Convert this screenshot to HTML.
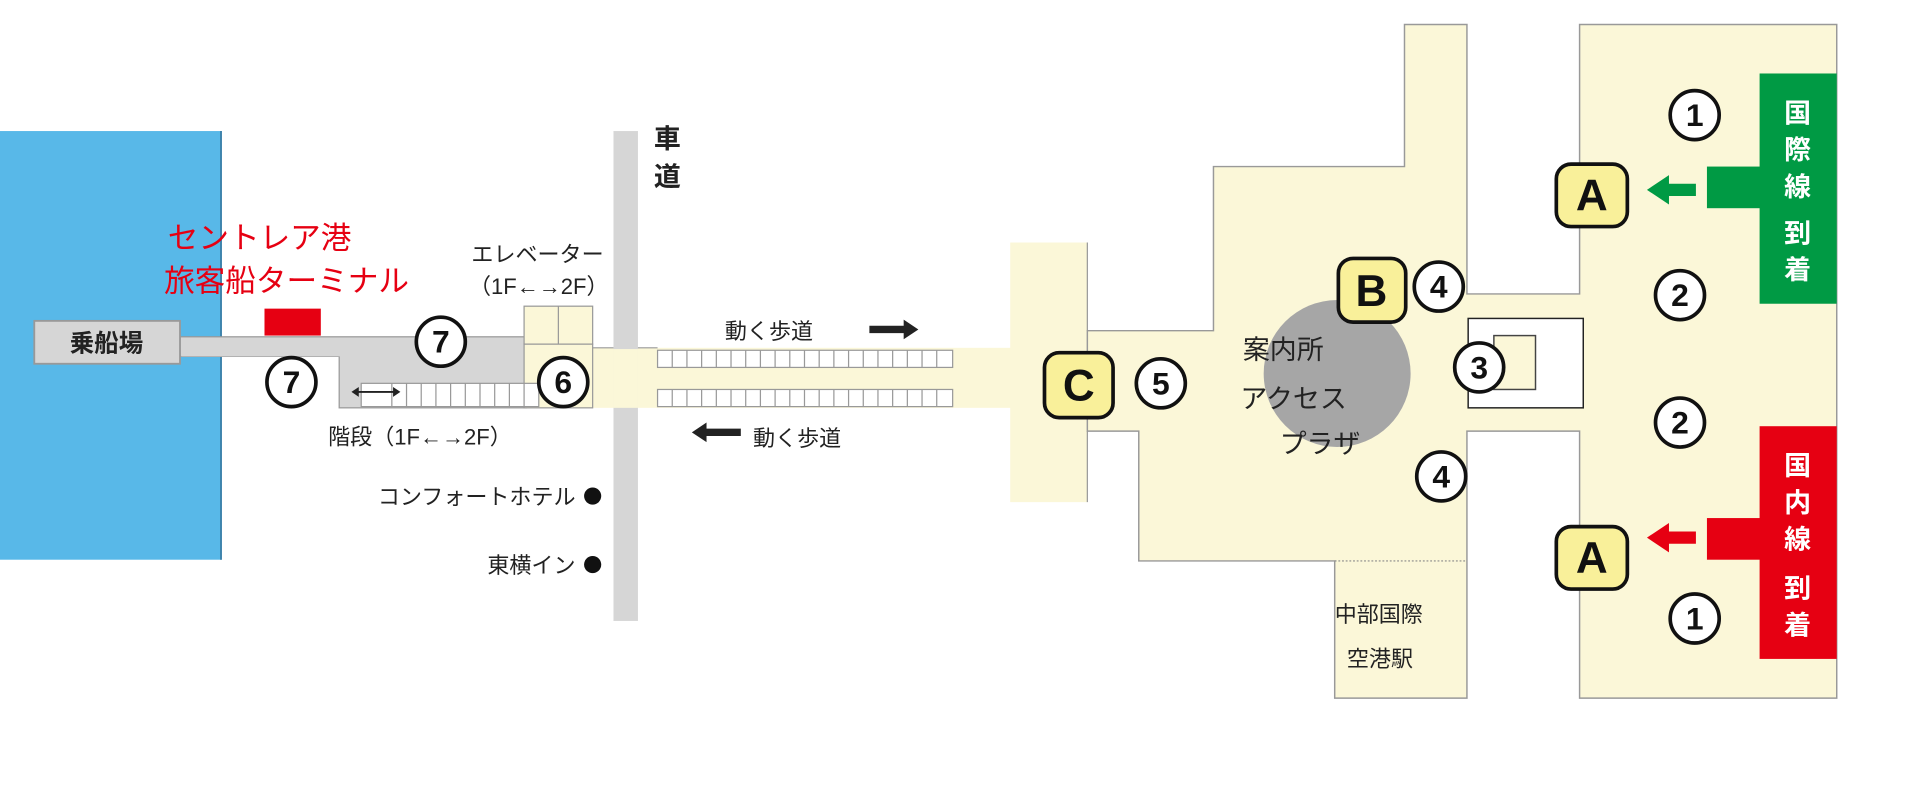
<!DOCTYPE html>
<html><head><meta charset="utf-8"><style>
html,body{margin:0;padding:0;background:#fff;width:1920px;height:812px;overflow:hidden}
svg{display:block}
text{font-family:"Liberation Sans","Noto Sans CJK JP",sans-serif}
</style></head><body>
<svg width="1920" height="812" viewBox="0 0 1568 663" preserveAspectRatio="none" xmlns="http://www.w3.org/2000/svg">
<rect x="0" y="107" width="181" height="350" fill="#58b8e8"/>
<line x1="180.5" y1="107" x2="180.5" y2="457" stroke="#3a7fa8" stroke-width="1.5"/>
<rect x="147" y="275" width="283" height="16" fill="#d6d6d6" stroke="#999" stroke-width="1"/>
<rect x="277" y="290" width="153" height="43" fill="#d6d6d6" stroke="#999" stroke-width="1"/>
<rect x="148" y="276" width="282" height="15" fill="#d6d6d6"/>
<rect x="28" y="262" width="119" height="35" fill="#d6d6d6" stroke="#999" stroke-width="1.5"/>
<text x="87" y="287" font-size="20" font-weight="bold" text-anchor="middle" fill="#222">乗船場</text>
<rect x="216" y="252" width="46" height="22" fill="#e60012"/>
<text x="137" y="203" font-size="25" fill="#e60012">セントレア港</text>
<text x="134" y="238" font-size="25" fill="#e60012">旅客船ターミナル</text>
<rect x="428" y="284" width="400" height="49" fill="#fbf7d8"/>
<line x1="484" y1="284" x2="537" y2="284" stroke="#999"/>
<rect x="501" y="107" width="20" height="400" fill="#d6d6d6"/>
<rect x="501" y="285" width="20" height="48" fill="#fbf7d8"/>
<text x="545" y="121" font-size="22" font-weight="bold" text-anchor="middle" fill="#222">車</text>
<text x="545" y="152" font-size="22" font-weight="bold" text-anchor="middle" fill="#222">道</text>
<rect x="428" y="250" width="56" height="31" fill="#fbf7d8" stroke="#999"/>
<line x1="456" y1="250" x2="456" y2="281" stroke="#999"/>
<rect x="428" y="281" width="56" height="52" fill="#fbf7d8" stroke="#999"/>
<text x="385" y="214" font-size="18" fill="#222">エレベーター</text>
<text x="383" y="240" font-size="18" fill="#222">（1F←→2F）</text>
<rect x="295" y="313" width="145" height="19" fill="#fff" stroke="#999"/>
<g stroke="#999" stroke-width="1">
<path d="M320 313v19M332 313v19M344 313v19M356 313v19M368 313v19M380 313v19M392 313v19M404 313v19M416 313v19M428 313v19"/>
</g>
<path d="M289 320h36" stroke="#222" stroke-width="1.5"/>
<path d="M287 320l6-4v8zM327 320l-6-4v8z" fill="#222"/>
<text x="268" y="363" font-size="18" fill="#222">階段（1F←→2F）</text>
<rect x="537" y="286" width="241" height="14" fill="#fff" stroke="#999"/>
<rect x="537" y="318" width="241" height="14" fill="#fff" stroke="#999"/>
<g stroke="#999" stroke-width="1">
<path d="M549 286v14M561 286v14M573 286v14M585 286v14M597 286v14M609 286v14M621 286v14M633 286v14M645 286v14M657 286v14M669 286v14M681 286v14M693 286v14M705 286v14M717 286v14M729 286v14M741 286v14M753 286v14M765 286v14"/>
<path d="M549 318v14M561 318v14M573 318v14M585 318v14M597 318v14M609 318v14M621 318v14M633 318v14M645 318v14M657 318v14M669 318v14M681 318v14M693 318v14M705 318v14M717 318v14M729 318v14M741 318v14M753 318v14M765 318v14"/>
</g>
<text x="592" y="277" font-size="18" fill="#222">動く歩道</text>
<path d="M710 266h28v-5l12 8-12 8v-5h-28z" fill="#222"/>
<text x="615" y="364" font-size="18" fill="#222">動く歩道</text>
<path d="M605 350h-28v-5l-12 8 12 8v-5h28z" fill="#222"/>
<text x="470" y="412" font-size="18" text-anchor="end" fill="#222">コンフォートホテル</text>
<circle cx="484" cy="405" r="7" fill="#111"/>
<text x="470" y="468" font-size="18" text-anchor="end" fill="#222">東横イン</text>
<circle cx="484" cy="461" r="7" fill="#111"/>
<rect x="825" y="198" width="63" height="212" fill="#fbf7d8"/>
<path d="M888 198v72M888 352v58" stroke="#999" fill="none"/>
<path d="M888 270H991V136H1147V20H1198V240H1290V20H1500V570H1290V352H1198V570H1090V458H930V352H888Z" fill="#fbf7d8" stroke="#999" stroke-width="1.2"/>
<line x1="1090" y1="458" x2="1198" y2="458" stroke="#888" stroke-dasharray="1.5,1.5"/>
<rect x="1199" y="260" width="94" height="73" fill="#fff" stroke="#222" stroke-width="1.2"/>
<rect x="1220" y="274" width="34" height="44" fill="#fbf7d8" stroke="#444" stroke-width="1.2"/>
<circle cx="1092" cy="305" r="60" fill="#a6a6a6"/>
<text x="1015" y="293" font-size="22" fill="#222">案内所</text>
<text x="1013" y="333" font-size="22" fill="#222">アクセス</text>
<text x="1045" y="370" font-size="22" fill="#222">プラザ</text>
<text x="1090" y="508" font-size="18" fill="#222">中部国際</text>
<text x="1100" y="544" font-size="18" fill="#222">空港駅</text>
<rect x="1437" y="60" width="63" height="188" fill="#009a44"/>
<rect x="1394" y="136" width="44" height="34" fill="#009a44"/>
<path d="M1385 150h-22v-7l-18 12 18 12v-7h22z" fill="#009a44"/>
<rect x="1437" y="348" width="63" height="190" fill="#e60012"/>
<rect x="1394" y="423" width="44" height="34" fill="#e60012"/>
<path d="M1385 434h-22v-7l-18 12 18 12v-7h22z" fill="#e60012"/>
<g font-size="22" font-weight="bold" fill="#fff" text-anchor="middle">
<text x="1468" y="100">国</text><text x="1468" y="130">際</text><text x="1468" y="160">線</text><text x="1468" y="198">到</text><text x="1468" y="228">着</text>
<text x="1468" y="388">国</text><text x="1468" y="418">内</text><text x="1468" y="448">線</text><text x="1468" y="488">到</text><text x="1468" y="518">着</text>
</g>
<g fill="#f9f09a" stroke="#111" stroke-width="3">
<rect x="1271" y="134" width="58" height="51" rx="12"/>
<rect x="1271" y="430" width="58" height="51" rx="12"/>
<rect x="1093" y="211" width="55" height="52" rx="12"/>
<rect x="853" y="288" width="56" height="53" rx="12"/>
</g>
<g font-size="36" font-weight="bold" text-anchor="middle" fill="#111">
<text x="1300" y="172">A</text><text x="1300" y="468">A</text><text x="1120" y="250">B</text><text x="881" y="327">C</text>
</g>
<g fill="#fff" stroke="#111" stroke-width="3">
<circle cx="360" cy="279" r="20"/><circle cx="238" cy="312" r="20"/><circle cx="460" cy="312" r="20"/>
<circle cx="948" cy="313" r="20"/><circle cx="1175" cy="234" r="20"/><circle cx="1177" cy="389" r="20"/><circle cx="1208" cy="300" r="20"/>
<circle cx="1372" cy="241" r="20"/><circle cx="1372" cy="345" r="20"/><circle cx="1384" cy="94" r="20"/><circle cx="1384" cy="505" r="20"/>
</g>
<g font-size="26" font-weight="bold" text-anchor="middle" fill="#111">
<text x="360" y="288">7</text><text x="238" y="321">7</text><text x="460" y="321">6</text>
<text x="948" y="322">5</text><text x="1175" y="243">4</text><text x="1177" y="398">4</text><text x="1208" y="309">3</text>
<text x="1372" y="250">2</text><text x="1372" y="354">2</text><text x="1384" y="103">1</text><text x="1384" y="514">1</text>
</g>
</svg>
</body></html>
